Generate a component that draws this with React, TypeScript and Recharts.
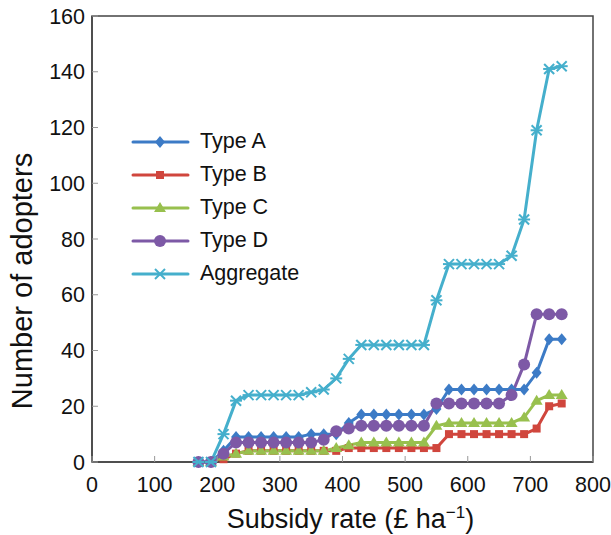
import { LineChart, Line, XAxis, YAxis, ReferenceArea } from 'recharts'

const rates = [170, 190, 210, 230, 250, 270, 290, 310, 330, 350, 370, 390, 410, 430, 450, 470, 490, 510, 530, 550, 570, 590, 610, 630, 650, 670, 690, 710, 730, 750]
const typeA = [0, 0, 4, 9, 9, 9, 9, 9, 9, 10, 10, 10, 14, 17, 17, 17, 17, 17, 17, 19, 26, 26, 26, 26, 26, 26, 26, 32, 44, 44]
const typeB = [0, 0, 1, 3, 4, 4, 4, 4, 4, 4, 4, 4, 5, 5, 5, 5, 5, 5, 5, 5, 10, 10, 10, 10, 10, 10, 10, 12, 20, 21]
const typeC = [0, 0, 2, 3, 4, 4, 4, 4, 4, 4, 4, 5, 6, 7, 7, 7, 7, 7, 7, 13, 14, 14, 14, 14, 14, 14, 16, 22, 24, 24]
const typeD = [0, 0, 3, 7, 7, 7, 7, 7, 7, 7, 8, 11, 12, 13, 13, 13, 13, 13, 13, 21, 21, 21, 21, 21, 21, 24, 35, 53, 53, 53]
const aggregate = [0, 0, 10, 22, 24, 24, 24, 24, 24, 25, 26, 30, 37, 42, 42, 42, 42, 42, 42, 58, 71, 71, 71, 71, 71, 74, 87, 119, 141, 142]
const xTicks = [0, 100, 200, 300, 400, 500, 600, 700, 800]
const yTicks = [0, 20, 40, 60, 80, 100, 120, 140, 160]

const FONT = '"Liberation Sans", Arial, sans-serif'

const series = [
  { key: 'a', name: 'Type A', values: typeA, color: '#3c7bc6', shape: 'diamond' },
  { key: 'b', name: 'Type B', values: typeB, color: '#d0463d', shape: 'square' },
  { key: 'c', name: 'Type C', values: typeC, color: '#98c04e', shape: 'triangle' },
  { key: 'd', name: 'Type D', values: typeD, color: '#7d59a6', shape: 'circle' },
  { key: 'agg', name: 'Aggregate', values: aggregate, color: '#45afcc', shape: 'star' },
]

const data = rates.map((r, i) => {
  const row: any = { rate: r }
  series.forEach((s) => { row[s.key] = s.values[i] })
  return row
})

function Marker({ cx, cy, shape, color }: any) {
  if (cx == null || cy == null) return null
  switch (shape) {
    case 'diamond':
      return <path d={`M${cx},${cy - 6}L${cx + 5},${cy}L${cx},${cy + 6}L${cx - 5},${cy}Z`} fill={color} />
    case 'square':
      return <rect x={cx - 4} y={cy - 4} width={8} height={8} fill={color} />
    case 'triangle':
      return <path d={`M${cx},${cy - 6}L${cx + 6},${cy + 4}L${cx - 6},${cy + 4}Z`} fill={color} />
    case 'circle':
      return <circle cx={cx} cy={cy} r={6} fill={color} />
    default:
      return (
        <g stroke={color} strokeWidth={2}>
          <line x1={cx - 5} y1={cy - 5} x2={cx + 5} y2={cy + 5} />
          <line x1={cx - 5} y1={cy + 5} x2={cx + 5} y2={cy - 5} />
          <line x1={cx - 6} y1={cy} x2={cx + 6} y2={cy} />
        </g>
      )
  }
}

const XTick = ({ x, y, payload }: any) => (
  <g>
    <line x1={x} x2={x} y1={y} y2={y - 6} stroke="#999" />
    <text x={x} y={y + 30} textAnchor="middle" fontSize={21.5} fontFamily={FONT} fill="#111">{payload.value}</text>
  </g>
)

const YTick = ({ x, y, payload }: any) => (
  <g>
    <line x1={x} x2={x + 6} y1={y} y2={y} stroke="#999" />
    <text x={x - 7} y={y + 7.5} textAnchor="end" fontSize={21.5} fontFamily={FONT} fill="#111">{payload.value}</text>
  </g>
)

const LegendBox = () => (
  <div style={{ fontFamily: FONT, fontSize: 21.5, color: '#111' }}>
    {series.map((s) => (
      <div key={s.key} style={{ display: 'flex', alignItems: 'center', height: 33 }}>
        <svg width={69} height={16}>
          <line x1={2} x2={57} y1={8} y2={8} stroke={s.color} strokeWidth={3} strokeLinecap="round" />
          <Marker cx={29} cy={8} shape={s.shape} color={s.color} />
        </svg>
        <span>{s.name}</span>
      </div>
    ))}
  </div>
)

export default function App() {
  return (
    <div style={{ position: 'absolute', left: 0, top: 0, width: 611, height: 535 }}>
      <LineChart width={611} height={535} data={data} margin={{ top: 16, right: 18, bottom: 0, left: 0 }}>
        <XAxis
          dataKey="rate"
          type="number"
          domain={[0, 800]}
          ticks={xTicks}
          height={73}
          tickSize={0}
          tickMargin={0}
          tick={<XTick />}
          axisLine={{ stroke: '#444', strokeWidth: 1.5 }}
          label={{
            content: ({ viewBox }: any) => (
              <text x={viewBox.x + viewBox.width / 2 + 8} y={viewBox.y + 66} textAnchor="middle" fontSize={27} fontFamily={FONT} fill="#111">
                Subsidy rate (£ ha<tspan dy={-10} fontSize={17}>−1</tspan><tspan dy={10}>)</tspan>
              </text>
            ),
          }}
        />
        <YAxis
          type="number"
          domain={[0, 160]}
          ticks={yTicks}
          width={92}
          tickSize={0}
          tickMargin={0}
          tick={<YTick />}
          axisLine={{ stroke: '#444', strokeWidth: 1.5 }}
          label={{
            content: ({ viewBox }: any) => {
              const cx = viewBox.x + 32
              const cy = viewBox.y + viewBox.height / 2 + 42
              return (
                <text x={cx} y={cy} transform={`rotate(-90 ${cx} ${cy})`} textAnchor="middle" fontSize={29} fontFamily={FONT} fill="#111">
                  Number of adopters
                </text>
              )
            },
          }}
        />
        <ReferenceArea x1={0} x2={800} y1={0} y2={160} fill="none" stroke="#444" strokeWidth={1.5} />
        {series.map((s) => (
          <Line
            key={s.key}
            dataKey={s.key}
            name={s.name}
            stroke={s.color}
            strokeWidth={3}
            isAnimationActive={false}
            dot={(p: any) => <Marker key={`${s.key}-${p.index}`} cx={p.cx} cy={p.cy} shape={s.shape} color={s.color} />}
            activeDot={false}
          />
        ))}
      </LineChart>
      <div style={{ position: 'absolute', left: 131, top: 125 }}>
        <LegendBox />
      </div>
    </div>
  )
}
